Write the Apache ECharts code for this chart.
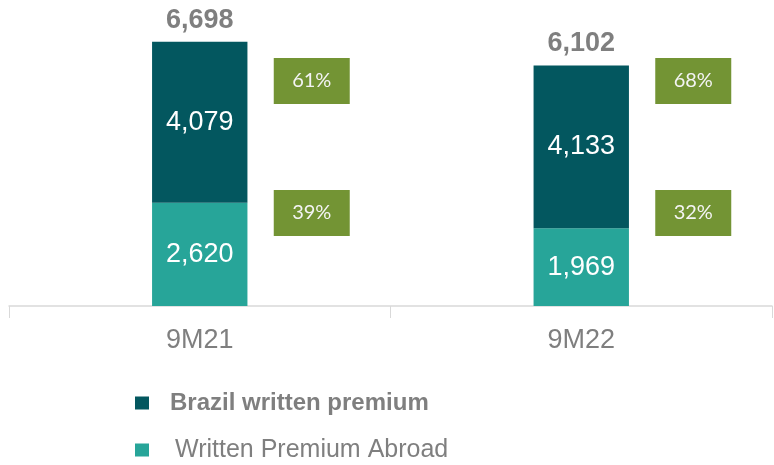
<!DOCTYPE html>
<html>
<head>
<meta charset="utf-8">
<script src="https://cdn.jsdelivr.net/npm/echarts@6/dist/echarts.min.js"></script>
<style>
  html, body { margin: 0; padding: 0; background: #fff; }
  #chart { width: 774px; height: 465px; }
</style>
</head>
<body>
<div id="chart"></div>
<script>
const categories = ['9M21', '9M22'];
const brazilValues = [4079, 4133];
const abroadValues = [2620, 1969];
const totals = [6698, 6102];
const seriesNames = ['Brazil written premium', 'Written Premium Abroad'];

const brazilPct = totals.map((t, i) => Math.round(brazilValues[i] / t * 100) + '%');
const abroadPct = totals.map((t, i) => Math.round(abroadValues[i] / t * 100) + '%');

const fmt = v => v.toLocaleString('en-US');
const darkColor = '#03575f';
const lightColor = '#27a599';
const greyText = '#7f7f7f';
const font = 'Liberation Sans, Arial, sans-serif';

// where the percentage boxes sit (y axis units)
const topBoxLevel = 5706;
const lowBoxLevel = 2359;

const boxLabel = {
  show: true,
  position: 'inside',
  offset: [112, 0],
  backgroundColor: '#739434',
  width: 76,
  height: 46,
  lineHeight: 46,
  align: 'center',
  verticalAlign: 'middle',
  color: '#f4f4f4',
  fontSize: 20,
  fontFamily: 'Lato, sans-serif'
};

const chart = echarts.init(document.getElementById('chart'));
const option = {
  animation: false,
  grid: { left: 9, right: 2, top: 30, bottom: 159 },
  legend: {
    orient: 'vertical',
    left: 130,
    top: 383,
    height: 120,
    itemWidth: 14,
    itemHeight: 13,
    itemGap: 17,
    icon: 'rect',
    data: [
      { name: seriesNames[0], textStyle: { fontWeight: 'bold', fontSize: 24, lineHeight: 30, color: greyText, fontFamily: font, padding: [0, 0, 0, 16] } },
      { name: seriesNames[1], textStyle: { fontWeight: 'normal', fontSize: 25, lineHeight: 30, color: greyText, fontFamily: font, padding: [0, 0, 0, 21] } }
    ]
  },
  xAxis: {
    type: 'category',
    data: categories,
    axisLine: { lineStyle: { color: '#d9d9d9', width: 1.5 } },
    axisTick: { show: true, length: 12, lineStyle: { color: '#d9d9d9' } },
    axisLabel: { color: greyText, fontSize: 27, fontFamily: font, margin: 21 }
  },
  yAxis: {
    type: 'value',
    min: 0,
    max: 7000,
    show: false,
    splitLine: { show: false }
  },
  series: [
    {
      name: seriesNames[1],
      type: 'bar',
      stack: 'total',
      barWidth: '25%',
      data: abroadValues,
      itemStyle: { color: lightColor },
      label: { show: true, position: 'inside', color: '#fff', fontSize: 27, fontFamily: font, formatter: p => fmt(p.value) }
    },
    {
      name: seriesNames[0],
      type: 'bar',
      stack: 'total',
      barWidth: '25%',
      data: brazilValues,
      itemStyle: { color: darkColor },
      label: { show: true, position: 'inside', color: '#fff', fontSize: 27, fontFamily: font, formatter: p => fmt(p.value) }
    },
    {
      name: 'total',
      type: 'scatter',
      symbolSize: 0,
      data: totals,
      silent: true,
      itemStyle: { opacity: 1 },
      label: { show: true, position: 'top', distance: 8, color: greyText, fontSize: 27, fontWeight: 'bold', fontFamily: font, formatter: p => fmt(p.value) }
    },
    {
      name: 'pctTop',
      type: 'scatter',
      symbolSize: 0,
      silent: true,
      itemStyle: { opacity: 1 },
      data: brazilPct.map((p, i) => ({ value: [categories[i], topBoxLevel], pct: p })),
      label: Object.assign({}, boxLabel, { formatter: p => p.data.pct })
    },
    {
      name: 'pctLow',
      type: 'scatter',
      symbolSize: 0,
      silent: true,
      itemStyle: { opacity: 1 },
      data: abroadPct.map((p, i) => ({ value: [categories[i], lowBoxLevel], pct: p })),
      label: Object.assign({}, boxLabel, { formatter: p => p.data.pct })
    }
  ]
};
chart.setOption(option);
</script>
</body>
</html>
